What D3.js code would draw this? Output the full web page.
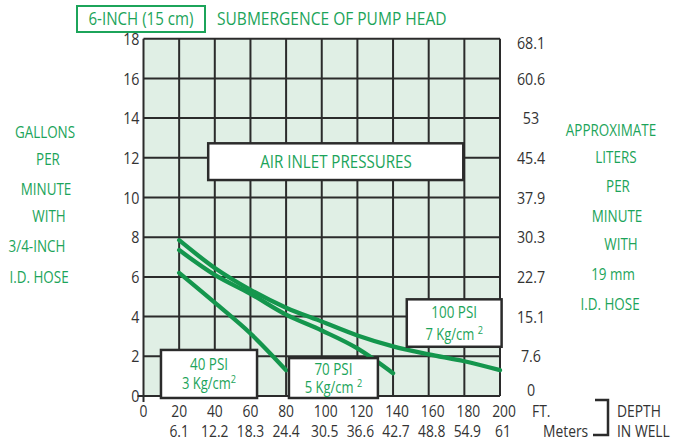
<!DOCTYPE html>
<html>
<head>
<meta charset="utf-8">
<script src="https://cdn.jsdelivr.net/npm/d3@7"></script>
<style>
	body { margin: 0; background: #fff; }
	svg text { font-family: "Open Sans", sans-serif; }
	.num { fill: #333; font-size: 17px; }
	.bottom { font-size: 16.5px; }
	.green { fill: #1ca45a; }
</style>
</head>
<body>
<div id="chart"></div>
<script>
// Depth in well (feet) - each series uses the first n of these
let depthFt = [20, 40, 60, 80, 100, 120, 140, 160, 180, 200];
// Gallons per minute
let gpm40 = [6.2, 4.7, 3.15, 1.3];
let gpm70 = [7.35, 6.1, 5.15, 4.1, 3.3, 2.4, 1.15];
let gpm100 = [7.85, 6.45, 5.35, 4.45, 3.75, 3.05, 2.5, 2.1, 1.75, 1.3];

// Tick labels
let gpmTicks = [0, 2, 4, 6, 8, 10, 12, 14, 16, 18];
let lpmTicks = ["0", "7.6", "15.1", "22.7", "30.3", "37.9", "45.4", "53", "60.6", "68.1"];
let ftTicks = [0, 20, 40, 60, 80, 100, 120, 140, 160, 180, 200];
let meterTicks = ["", "6.1", "12.2", "18.3", "24.4", "30.5", "36.6", "42.7", "48.8", "54.9", "61"];

let leftTitle = ["GALLONS", "PER", "MINUTE", "WITH", "3/4-INCH", "I.D. HOSE"];
let rightTitle = ["APPROXIMATE", "LITERS", "PER", "MINUTE", "WITH", "19 mm", "I.D. HOSE"];

let width = 681, height = 442;
let curveColor = "#14964d";

let svg = d3.select("#chart").append("svg")
	.attr("width", width)
	.attr("height", height);

// scales
let x = d3.scaleLinear().domain([0, 200]).range([143.5, 500]);
let y = d3.scaleLinear().domain([0, 18]).range([396, 38.7]);

// plot background
svg.append("rect")
	.attr("x", x(0)).attr("y", y(18))
	.attr("width", x(200) - x(0)).attr("height", y(0) - y(18))
	.attr("fill", "#e0efe5");

// grid
svg.append("g").selectAll("line")
	.data(gpmTicks)
	.enter().append("line")
	.attr("x1", x(0)).attr("x2", x(200))
	.attr("y1", d => y(d)).attr("y2", d => y(d))
	.attr("stroke", "#2b2b2b").attr("stroke-width", 2);

svg.append("g").selectAll("line")
	.data(ftTicks)
	.enter().append("line")
	.attr("x1", d => x(d)).attr("x2", d => x(d))
	.attr("y1", y(18)).attr("y2", y(0))
	.attr("stroke", "#2b2b2b").attr("stroke-width", 2);

// little cross at the origin
svg.append("line")
	.attr("x1", x(0)).attr("x2", x(0))
	.attr("y1", y(0)).attr("y2", y(0) + 6)
	.attr("stroke", "#2b2b2b").attr("stroke-width", 2);
svg.append("line")
	.attr("x1", x(0) - 6).attr("x2", x(0))
	.attr("y1", y(0)).attr("y2", y(0))
	.attr("stroke", "#2b2b2b").attr("stroke-width", 2);

// left axis labels (gpm)
svg.append("g").selectAll("text")
	.data(gpmTicks)
	.enter().append("text")
	.attr("class", "num")
	.attr("x", x(0) - 4)
	.attr("y", d => y(d))
	.attr("dy", "0.36em")
	.style("text-anchor", "end")
	.text(d => d);

// right axis labels (liters per minute) - top and bottom ones sit a bit inward
svg.append("g").selectAll("text")
	.data(lpmTicks)
	.enter().append("text")
	.attr("class", "num")
	.attr("x", 531)
	.attr("y", (d, i) => y(gpmTicks[i]) + (i === 0 ? -6 : i === 9 ? 4 : 0))
	.attr("dy", "0.36em")
	.style("text-anchor", "middle")
	.text(d => d);

// bottom labels: feet and meters
svg.append("g").selectAll("text")
	.data(ftTicks)
	.enter().append("text")
	.attr("class", "num bottom")
	.attr("x", d => x(d) + (d >= 100 ? 4 : 0))
	.attr("y", 417)
	.style("text-anchor", "middle")
	.text(d => d);

svg.append("g").selectAll("text")
	.data(meterTicks)
	.enter().append("text")
	.attr("class", "num bottom")
	.attr("x", (d, i) => x(ftTicks[i]) + (ftTicks[i] >= 100 ? 3 : 0))
	.attr("y", 437)
	.style("text-anchor", "middle")
	.text(d => d);

svg.append("text").attr("class", "num bottom").attr("x", 532).attr("y", 417).text("FT.");
svg.append("text").attr("class", "num bottom").attr("x", 543).attr("y", 437).text("Meters");
svg.append("path")
	.attr("d", "M595,400 H608 V435 H593")
	.attr("fill", "none").attr("stroke", "#2b2b2b").attr("stroke-width", 2.5);
svg.append("text").attr("class", "num bottom").attr("x", 617).attr("y", 417).text("DEPTH");
svg.append("text").attr("class", "num bottom").attr("x", 617).attr("y", 437).text("IN WELL");

// side titles
svg.append("g").selectAll("text")
	.data(leftTitle)
	.enter().append("text")
	.attr("class", "green")
	.attr("x", (d, i) => [45, 48, 46, 49, 37, 39][i])
	.attr("y", (d, i) => [138, 165, 195, 222, 252, 283][i])
	.style("text-anchor", "middle")
	.style("font-size", "16px")
	.text(d => d);

svg.append("g").selectAll("text")
	.data(rightTitle)
	.enter().append("text")
	.attr("class", "green")
	.attr("x", (d, i) => [611, 616, 618, 617, 621, 613, 610][i])
	.attr("y", (d, i) => [136, 163, 192, 222, 250, 280, 310][i])
	.style("text-anchor", "middle")
	.style("font-size", "16px")
	.text(d => d);

// header
svg.append("rect")
	.attr("x", 77).attr("y", 6).attr("width", 128).attr("height", 26)
	.attr("fill", "#fff").attr("stroke", "#1ca45a").attr("stroke-width", 2);
svg.append("text").attr("class", "green").attr("x", 141).attr("y", 25)
	.style("text-anchor", "middle").style("font-size", "18px").text("6-INCH (15 cm)");
svg.append("text").attr("class", "green").attr("x", 217).attr("y", 25)
	.style("font-size", "18.5px").text("SUBMERGENCE OF PUMP HEAD");

// curves
let line = d3.line()
	.x(d => x(d[0]))
	.y(d => y(d[1]))
	.curve(d3.curveMonotoneX);

[gpm40, gpm70, gpm100].forEach(vals => {
	svg.append("path")
		.datum(vals.map((v, i) => [depthFt[i], v]))
		.attr("d", line)
		.attr("fill", "none")
		.attr("stroke", curveColor)
		.attr("stroke-width", 4.3)
		.attr("stroke-linecap", "round");
});

// label boxes, placed in data units (ft, gpm)
function labelBox(x0, x1, y0, y1) {
	svg.append("rect")
		.attr("x", x(x0)).attr("y", y(y0))
		.attr("width", x(x1) - x(x0)).attr("height", y(y1) - y(y0))
		.attr("fill", "#fff").attr("stroke", "#2b2b2b").attr("stroke-width", 2.5);
}

labelBox(36.3, 179.4, 12.73, 10.88);
svg.append("text").attr("class", "green")
	.attr("x", x(108)).attr("y", 168)
	.style("text-anchor", "middle").style("font-size", "18px")
	.text("AIR INLET PRESSURES");

function psiLabel(x0, x1, y0, y1, psi, kg, gap, b1, b2) {
	labelBox(x0, x1, y0, y1);
	let cx = (x(x0) + x(x1)) / 2;
	let top = y(y0);
	svg.append("text").attr("class", "green")
		.attr("x", cx).attr("y", top + b1)
		.style("text-anchor", "middle").style("font-size", "16px")
		.text(psi + " PSI");
	let t = svg.append("text").attr("class", "green")
		.attr("x", cx).attr("y", top + b2)
		.style("text-anchor", "middle").style("font-size", "15.5px");
	t.append("tspan").text(kg + " Kg/cm" + gap);
	t.append("tspan").attr("dy", -6).style("font-size", "11px").text("2");
}

psiLabel(9.8, 63.7, 2.32, -0.1, 40, 3, "", 20, 39);
psiLabel(81.6, 131.5, 1.91, -0.1, 70, 5, " ", 16.5, 35);
psiLabel(147.7, 200.9, 4.87, 2.48, 100, 7, " ", 19, 41);

// the original lettering is a condensed face: squeeze every text around its anchor
svg.selectAll("text").each(function() {
	let t = d3.select(this);
	let ax = +t.attr("x");
	t.attr("transform", "translate(" + ax + ",0) scale(0.84,1) translate(" + (-ax) + ",0)");
});
</script>
</body>
</html>
